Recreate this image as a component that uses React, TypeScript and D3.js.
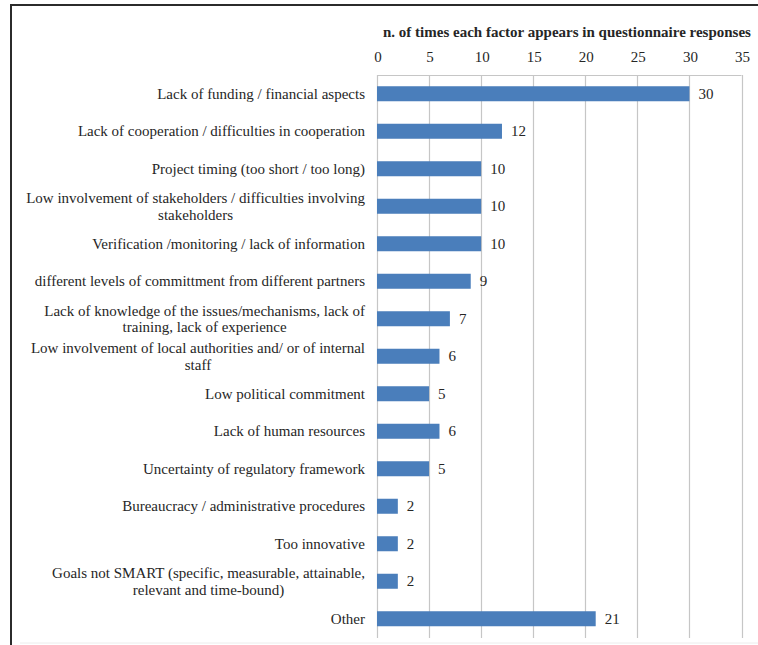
import React, { useEffect, useRef } from "react";
import * as d3 from "d3";

const categories: string[][] = [
  ["Lack of funding / financial aspects"],
  ["Lack of cooperation / difficulties in cooperation"],
  ["Project timing (too short / too long)"],
  ["Low involvement of stakeholders / difficulties involving", "stakeholders"],
  ["Verification /monitoring / lack of information"],
  ["different levels of committment from different partners"],
  ["Lack of knowledge of the issues/mechanisms, lack of", "training, lack of experience"],
  ["Low involvement of local authorities and/ or of internal", "staff"],
  ["Low political commitment"],
  ["Lack of human resources"],
  ["Uncertainty of regulatory framework"],
  ["Bureaucracy / administrative procedures"],
  ["Too innovative"],
  ["Goals not SMART (specific, measurable, attainable,", "relevant and time-bound)"],
  ["Other"],
];
const values: number[] = [30, 12, 10, 10, 10, 9, 7, 6, 5, 6, 5, 2, 2, 2, 21];
const tickValues: number[] = [0, 5, 10, 15, 20, 25, 30, 35];
const axisTitle = "n. of times each factor appears in questionnaire responses";

const W = 758;
const H = 645;
const FONT = "Liberation Serif, Times New Roman, serif";
const FS = 15;

export default function App() {
  const ref = useRef<SVGSVGElement | null>(null);

  useEffect(() => {
    const svg = d3.select(ref.current);
    svg.selectAll("*").remove();

    const x = d3.scaleLinear().domain([0, 35]).range([377, 741.5]);
    const ids = categories.map((_, i) => String(i));
    const y = d3.scaleBand().domain(ids).range([75, 637.5]).paddingInner(0.6).paddingOuter(0.3);

    // frame
    svg.append("rect").attr("x", 0).attr("y", 0).attr("width", W).attr("height", H).attr("fill", "#fff");
    svg.append("line").attr("x1", 10).attr("x2", W).attr("y1", 5).attr("y2", 5).attr("stroke", "#2b2b2b").attr("stroke-width", 2);
    svg.append("line").attr("x1", 11).attr("x2", 11).attr("y1", 4).attr("y2", H).attr("stroke", "#2b2b2b").attr("stroke-width", 2);
    svg.append("line").attr("x1", 20).attr("x2", W).attr("y1", 643).attr("y2", 643).attr("stroke", "#ececec").attr("stroke-width", 1);

    // grid
    const g = svg.append("g");
    g.selectAll("line.grid")
      .data(tickValues)
      .join("line")
      .attr("x1", (d) => Math.round(x(d)) + 0.5)
      .attr("x2", (d) => Math.round(x(d)) + 0.5)
      .attr("y1", 75)
      .attr("y2", 638)
      .attr("stroke", "#c6c6c6")
      .attr("stroke-width", 1.2);
    g.append("line")
      .attr("x1", x(0))
      .attr("x2", x(35))
      .attr("y1", 75.5)
      .attr("y2", 75.5)
      .attr("stroke", "#c6c6c6")
      .attr("stroke-width", 1.2);

    // ticks
    g.selectAll("text.tick")
      .data(tickValues)
      .join("text")
      .attr("x", (d) => x(d) + 1)
      .attr("y", 62)
      .attr("text-anchor", "middle")
      .style("font-family", FONT)
      .attr("font-size", FS)
      .attr("fill", "#262626")
      .text((d) => String(d));

    // title
    svg.append("text")
      .attr("x", 567)
      .attr("y", 37)
      .attr("text-anchor", "middle")
      .style("font-family", FONT)
      .attr("font-size", FS)
      .attr("font-weight", "bold")
      .attr("fill", "#262626")
      .text(axisTitle);

    // bars
    g.selectAll("rect.bar")
      .data(values)
      .join("rect")
      .attr("x", x(0))
      .attr("y", (_, i) => y(String(i))!)
      .attr("width", (d) => x(d) - x(0))
      .attr("height", y.bandwidth())
      .attr("fill", "#4a7ebb");

    // value labels
    g.selectAll("text.val")
      .data(values)
      .join("text")
      .attr("x", (d) => x(d) + 9)
      .attr("y", (_, i) => y(String(i))! + y.bandwidth() / 2 + 5)
      .style("font-family", FONT)
      .attr("font-size", FS)
      .attr("fill", "#262626")
      .text((d) => String(d));

    // category labels
    const rightX = 365;
    categories.forEach((lines, i) => {
      const cy = y(String(i))! + y.bandwidth() / 2;
      const lh = 16.5;
      const t = svg.append("text")
        .style("font-family", FONT)
        .attr("font-size", FS)
        .attr("fill", "#262626");
      const spans = lines.map((ln, k) =>
        t.append("tspan")
          .attr("y", cy + 5 + (k - (lines.length - 1) / 2) * lh)
          .text(ln)
      );
      const widths = spans.map((s) => (s.node() as SVGTSpanElement).getComputedTextLength());
      const maxW = Math.max(...widths);
      const center = rightX - maxW / 2;
      spans.forEach((s) => s.attr("x", center).attr("text-anchor", "middle"));
    });
  }, []);

  return (
    <svg
      ref={ref}
      width={W}
      height={H}
      style={{ position: "absolute", left: 0, top: 0, display: "block" }}
    />
  );
}
